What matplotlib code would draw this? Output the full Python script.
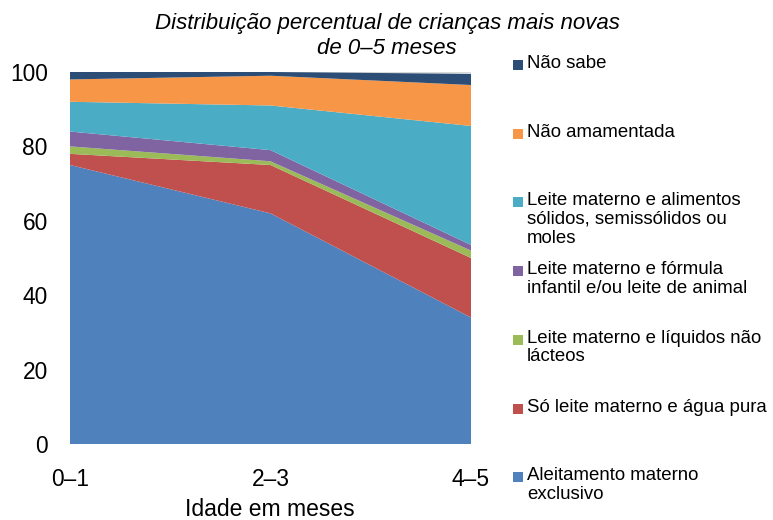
import matplotlib
matplotlib.use("Agg")
import matplotlib.pyplot as plt
from matplotlib.patches import Rectangle

plt.rcParams['font.family'] = ['Liberation Sans', 'DejaVu Sans']

# idade em meses
idades = ['0–1', '2–3', '4–5']

# percentuais por categoria (de baixo para cima)
exclusivo = [75, 62, 34]
agua_pura = [3, 13, 16]
liquidos = [2, 1, 2]
formula = [4, 3, 1.5]
solidos = [8, 12, 32]
nao_amamentada = [6, 8, 11]
nao_sabe = [2, 1, 3]

nomes = [
    'Aleitamento materno\nexclusivo',
    'Só leite materno e água pura',
    'Leite materno e líquidos não\nlácteos',
    'Leite materno e fórmula\ninfantil e/ou leite de animal',
    'Leite materno e alimentos\nsólidos, semissólidos ou\nmoles',
    'Não amamentada',
    'Não sabe',
]
cores = ['#4F81BD', '#C0504D', '#9BBB59', '#8064A2', '#4BACC6', '#F79646', '#2C4D75']

fig = plt.figure(figsize=(7.73, 5.2), dpi=100)
ax = fig.add_axes([70 / 773, 76 / 520, 401 / 773, 372 / 520])

x = list(range(len(idades)))
ax.axhline(100, color='#D9D9D9', lw=1, zorder=0)
ax.stackplot(x, exclusivo, agua_pura, liquidos, formula, solidos,
             nao_amamentada, nao_sabe, colors=cores, linewidth=0, zorder=2)

ax.set_xlim(0, 2)
ax.set_ylim(0, 100)
ax.set_yticks(range(0, 101, 20))
ax.set_xticks(x)
ax.set_xticklabels(idades)
ax.tick_params(axis='y', length=0, pad=16, labelsize=16.4)
ax.tick_params(axis='x', length=0, pad=17, labelsize=16.4)
for s in ax.spines.values():
    s.set_visible(False)

fig.text(270 / 773, 1 - 509 / 520, 'Idade em meses', ha='center', va='center', fontsize=16.5)

fig.text(387 / 773, 1 - 23 / 520, 'Distribuição percentual de crianças mais novas',
         ha='center', va='center', fontsize=16, style='italic')
fig.text(387 / 773, 1 - 49 / 520, 'de 0–5 meses',
         ha='center', va='center', fontsize=16, style='italic')

# legenda manual, de cima para baixo
y0 = 65
passo = 68.7
for i, (nome, cor) in enumerate(zip(nomes[::-1], cores[::-1])):
    yc = y0 + i * passo
    fig.patches.append(Rectangle((513 / 773, 1 - (yc + 5) / 520), 10 / 773, 10 / 520,
                                 transform=fig.transFigure, facecolor=cor, edgecolor='none'))
    fig.text(527 / 773, 1 - (yc - 10) / 520, nome, ha='left', va='top',
             fontsize=13.4, linespacing=1.12)

fig.savefig('out.png', dpi=100)
